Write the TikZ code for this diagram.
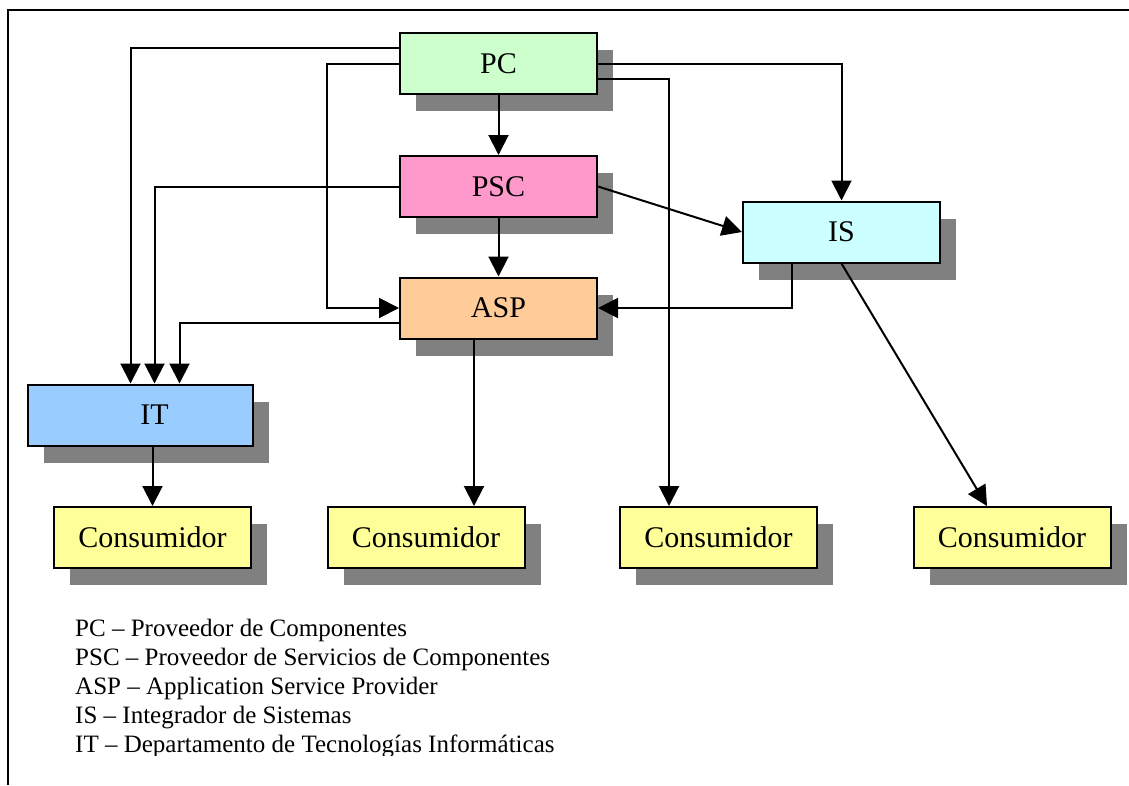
\documentclass[tikz,border=0pt]{standalone}
\usepackage{fontspec}
\setmainfont{Liberation Serif}
\usetikzlibrary{arrows.meta,shadows}

\definecolor{pcfill}{HTML}{CCFFCC}
\definecolor{pscfill}{HTML}{FF99CC}
\definecolor{aspfill}{HTML}{FFCC99}
\definecolor{isfill}{HTML}{CCFFFF}
\definecolor{itfill}{HTML}{99CCFF}
\definecolor{consfill}{HTML}{FFFF99}
\definecolor{shadowgray}{HTML}{808080}

\tikzset{
  actor/.style={draw=black, line width=2pt, rectangle,
    minimum width=197pt, minimum height=61pt, inner sep=0pt,
    font=\fontsize{30}{34}\selectfont,
    drop shadow={shadow xshift=16pt, shadow yshift=-17pt,
      fill=shadowgray, opacity=1}},
  link/.style={line width=2pt, draw=black},
  flow/.style={link, -{Triangle[width=20pt,length=20pt]}},
  legendline/.style={anchor=base west, inner sep=0pt,
    font=\fontsize{25}{29}\selectfont},
}

\begin{document}
\begin{tikzpicture}[x=1pt,y=-1pt]
\useasboundingbox (0,0) rectangle (1129,785);

% page frame
\draw[line width=2pt] (1129,10) -- (8,10) -- (8,785);

% actors
\node[actor, fill=pcfill]   (PC)  at (498.5,63.5) {PC};
\node[actor, fill=pscfill]  (PSC) at (498.5,186.5) {PSC};
\node[actor, fill=aspfill]  (ASP) at (498.5,308) {ASP};
\node[actor, fill=isfill]   (IS)  at (841.5,232) {IS};
\node[actor, fill=itfill, minimum width=225pt]
                            (IT)  at (140.5,415) {\hspace*{28pt}IT};
\node[actor, fill=consfill] (C1)  at (152.5,537.5) {Consumidor};
\node[actor, fill=consfill] (C2)  at (426,537.5) {Consumidor};
\node[actor, fill=consfill] (C3)  at (718.5,537.5) {Consumidor};
\node[actor, fill=consfill] (C4)  at (1012,537.5) {Consumidor};

% flows towards IT
\draw[flow] (PC.west |- 0,48) -| ([xshift=-10pt]IT.north);
\draw[flow] (PSC.west) -| ([xshift=14pt]IT.north);
\draw[flow] (ASP.west |- 0,323) -| ([xshift=39pt]IT.north);

% flows towards ASP
\draw[flow] (PC.west |- 0,64) -| (327,308) -- (ASP.west);
\draw[flow] (IS.south -| 792,0) |- (ASP.east);

% main column
\draw[flow] (PC.south) -- (PSC.north);
\draw[flow] (PSC.south) -- (ASP.north);

% flows towards IS
\draw[flow] (PC.east |- 0,64) -| (IS.north);
\draw[flow] (PSC.east) -- (IS.west);

% flows towards consumers
\draw[flow] (IT.south -| C1.north) -- (C1.north);
\draw[flow] (ASP.south -| 474,0) -- (C2.north -| 474,0);
\draw[flow] (PC.east |- 0,79) -| (C3.north -| 669,0);
\draw[flow] (IS.south) -- ([xshift=-25pt]C4.north);

% legend, its text frame cuts the last line just below the baseline
\begin{scope}
\clip (0,0) rectangle (1129,755);
\node[legendline] (L1) at (75,636) {PC – Proveedor de Componentes};
\node[legendline] (L2) at (75,665) {PSC – Proveedor de Servicios de Componentes};
\node[legendline] (L3) at (75,694) {ASP – Application Service Provider};
\node[legendline] (L4) at (75,723) {IS – Integrador de Sistemas};
\node[legendline] (L5) at (75,752) {IT – Departamento de Tecnologías Informáticas};
\end{scope}
\end{tikzpicture}
\end{document}
